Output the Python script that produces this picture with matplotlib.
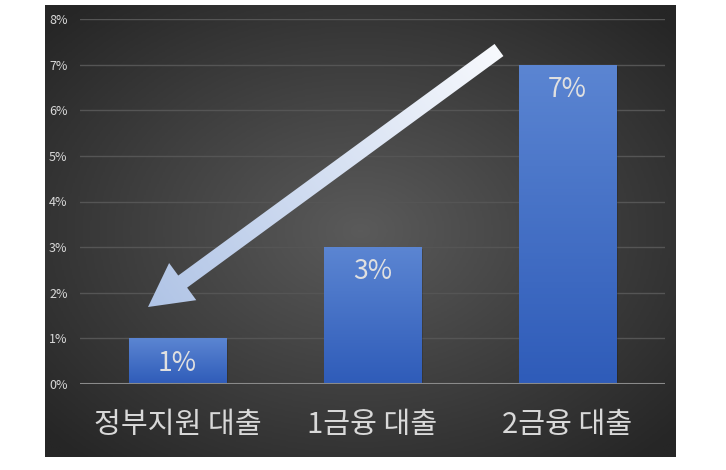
import numpy as np
import matplotlib.pyplot as plt
from matplotlib.patches import Polygon
from matplotlib.colors import LinearSegmentedColormap
from matplotlib.ticker import FuncFormatter

plt.rcParams['font.family'] = ['Noto Sans CJK KR', 'DejaVu Sans']

# loan type vs. interest rate
categories = ['정부지원 대출', '1금융 대출', '2금융 대출']
rates = [1, 3, 7]
value_labels = ['1%', '3%', '7%']
yticks = [0, 1, 2, 3, 4, 5, 6, 7, 8]

W, H = 726, 470
fig = plt.figure(figsize=(W / 100, H / 100), dpi=100)
fig.patch.set_facecolor('white')

# dark panel with a soft radial glow
bg = fig.add_axes([45 / W, 1 - 457 / H, 631 / W, 452 / H], zorder=0)
gx, gy = np.meshgrid(np.linspace(-1, 1, 400), np.linspace(-1, 1, 300))
r = np.clip(np.sqrt(gx ** 2 + gy ** 2) / 1.35, 0, 1)
glow = LinearSegmentedColormap.from_list('glow', ['#5a5a5a', '#262626'])
bg.imshow(r, cmap=glow, aspect='auto', extent=[0, 1, 0, 1])
bg.set_axis_off()

ax = fig.add_axes([80 / W, 1 - 384 / H, 585 / W, 365 / H], zorder=1)
ax.set_facecolor('none')
x = np.arange(len(categories))
bars = ax.bar(x, rates, width=0.5, color='#4472c4', zorder=3)

# vertical gradient on each bar
bar_cmap = LinearSegmentedColormap.from_list('bar', ['#2f5cb9', '#5b85d2'])
for b in bars:
    # slight shadow
    ax.bar(b.get_x() + b.get_width() / 2 + 0.01, b.get_height(), width=b.get_width(),
           bottom=-0.04, color='black', alpha=0.15, zorder=2)
    grad = np.linspace(0, 1, 100).reshape(-1, 1)
    im = ax.imshow(grad, cmap=bar_cmap, origin='lower', aspect='auto',
                   extent=[b.get_x(), b.get_x() + b.get_width(), 0, b.get_height()], zorder=4)
    im.set_clip_path(b)

for xi, v, lab in zip(x, rates, value_labels):
    ax.text(xi, v - 0.54, lab, ha='center', va='center', fontsize=19,
            color='#e0e0e0', zorder=5)

ax.set_xlim(-0.5, len(categories) - 0.5)
ax.set_ylim(0, 8)
ax.set_yticks(yticks)
ax.yaxis.set_major_formatter(FuncFormatter(lambda v, p: f'{v:.0f}%'))
ax.set_xticks(x)
ax.set_xticklabels(categories, fontsize=21, color='#d9d9d9')
ax.tick_params(axis='x', length=0, pad=19)
ax.tick_params(axis='y', length=0, pad=9, labelsize=9, labelcolor='#d9d9d9')
ax.grid(axis='y', color='#555555', linewidth=1, zorder=1)
for s in ax.spines.values():
    s.set_visible(False)
ax.axhline(0, color='#8a8a8a', linewidth=1.5, zorder=6)

# gradient arrow pointing down to the lowest rate
ov = fig.add_axes([0, 0, 1, 1], zorder=2)
ov.set_xlim(0, W)
ov.set_ylim(H, 0)
ov.set_axis_off()
ov.patch.set_alpha(0)

tail = np.array([499.0, 50.0])
tip = np.array([148.0, 307.0])
d = (tip - tail) / np.linalg.norm(tip - tail)
n = np.array([-d[1], d[0]])
head_len, head_half, shaft_half = 43, 23, 7.5
base = tip - d * head_len
pts = [tail + n * shaft_half, base + n * shaft_half, base + n * head_half, tip,
       base - n * head_half, base - n * shaft_half, tail - n * shaft_half]
arrow = Polygon(pts, closed=True, facecolor='none', edgecolor='none')
ov.add_patch(arrow)
xs, ys = np.meshgrid(np.linspace(130, 520, 300), np.linspace(30, 330, 240))
t = ((xs - tail[0]) * d[0] + (ys - tail[1]) * d[1]) / np.linalg.norm(tip - tail)
arrow_cmap = LinearSegmentedColormap.from_list('arr', ['#f7f9fd', '#b0c4e6'])
aim = ov.imshow(np.clip(t, 0, 1), cmap=arrow_cmap, extent=[130, 520, 330, 30],
                aspect='auto', origin='upper')
aim.set_clip_path(arrow)
ov.set_xlim(0, W)
ov.set_ylim(H, 0)

fig.savefig('out.png', dpi=100)
